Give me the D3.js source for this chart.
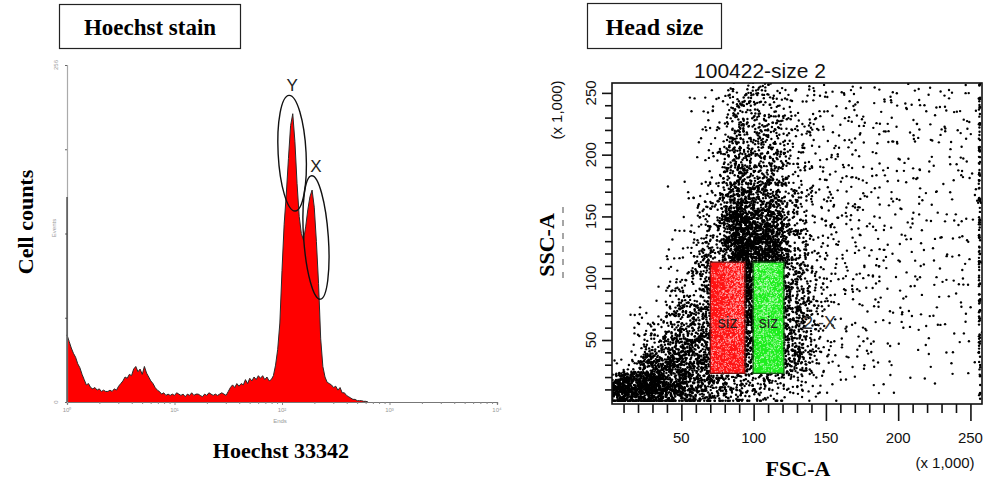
<!DOCTYPE html>
<html>
<head>
<meta charset="utf-8">
<script src="https://cdn.jsdelivr.net/npm/d3@7"></script>
<style>
  body { margin: 0; background: #fff; }
  svg { display: block; }
</style>
</head>
<body>
<script>
// ---- Hoechst histogram (left panel) ----
// counts per bin, bins are 0.02 decade wide starting at 10^0
const histBinStart = 0;
const histBinWidth = 0.02;
const histCounts = [
  51,46,41,37,34,29,26,21,17,13, 14,11,10,11,9,10,8,9,8,8,
  9,8,10,9,12,14,16,19,18,21, 20,25,27,23,25,21,27,22,19,16,
  14,11,9,8,6,7,5,6,
  5,6,5,7,6,5,6,4,6,5,7,5,6,6,5,4,6,5,7,6,5,6,5,6,7,6,5,
  8,11,13,11,14,12,14,13,17,14,18,16,19,17,20,18,20,17,19,16,17,20,28,40,60,
  100,135,158,185,210,219,198,166,141,128,123,133,146,156,161,148,122,90,48,27,
  19,15,14,13,11,12,9,11,7,7,5,4,3,2,2,1,1,1,0.5,0.5,0
];
const histYTicks = [0, 64, 128, 192, 256];
const histXTicks = [1, 10, 100, 1000, 10000];
// peak annotations: centre (decade), centre count, half width (decade), half height (count)
const peakMarks = [
  { label: "Y", decade: 2.094, count: 189, rx: 0.13, ry: 44, rot: -3 },
  { label: "X", decade: 2.316, count: 125, rx: 0.115, ry: 47, rot: -4 }
];

// ---- Head size scatter (right panel) ----
const fscCellStarts = [0,20,40,60,80,100,120,140,160,180,200,220,240];
const sscCellStarts = [0,20,40,60,80,100,120,140,160,180,200,220,240];
const cellSize = 20;
// dot counts per cell, one row per SSC band (bottom first), columns follow fscCellStarts
const densityRows = [
  [520,480,280,150,75,50,20,6,3,3,1,1,0],
  [10,230,250,200,170,170,100,15,6,5,4,3,2],
  [0,50,170,200,240,240,120,20,8,6,5,5,4],
  [0,12,80,160,320,300,115,20,10,7,6,6,5],
  [0,3,35,110,380,340,95,22,12,8,7,6,5],
  [0,1,15,85,420,360,75,20,12,9,7,6,5],
  [0,0,7,60,420,340,60,18,12,9,8,7,6],
  [0,0,3,40,320,230,48,17,12,10,8,7,6],
  [0,0,2,25,190,140,36,15,12,9,8,7,6],
  [0,0,1,15,120,95,28,14,11,9,8,7,6],
  [0,0,0,12,85,70,24,14,11,10,8,8,7],
  [0,0,0,9,65,55,20,14,11,10,9,8,7],
  [0,0,0,6,50,45,16,11,9,8,8,7,6]
];
// events piled at the top of the FSC range, per SSC band
const edgePile = [6,9,11,12,12,12,12,12,12,12,11,11,10];
const gates = [
  { name: "siz", fsc: [70, 94], ssc: [23, 113], fill: "#ff1414", dot: "#ffc4c4", stroke: "#7a1010" },
  { name: "siz", fsc: [99.6, 121], ssc: [23, 113], fill: "#1fee1f", dot: "#d0ffd0", stroke: "#145a14" }
];
const scatterMajorTicks = [50, 100, 150, 200, 250];
const scatterMinorTicks = [10,20,30,40,60,70,80,90,110,120,130,140,160,170,180,190,210,220,230,240];

const W = 985, H = 486;
const serif = "'Liberation Serif', 'Times New Roman', serif";
const sans = "'Liberation Sans', Arial, sans-serif";

const svg = d3.select("body").append("svg")
  .attr("width", W).attr("height", H)
  .style("background", "#fff");

// title boxes
function boxTitle(x, y, w, h, txt, size) {
  svg.append("rect").attr("x", x).attr("y", y).attr("width", w).attr("height", h)
    .attr("fill", "#fff").attr("stroke", "#222").attr("stroke-width", 1.2);
  svg.append("text").attr("x", x + w / 2).attr("y", y + h / 2 + 1)
    .attr("text-anchor", "middle").attr("dominant-baseline", "central")
    .style("font-family", serif).style("font-weight", "bold").style("font-size", size + "px")
    .text(txt);
}
boxTitle(59.5, 4.5, 181, 44, "Hoechst stain", 23);
boxTitle(587.5, 3.5, 134, 45, "Head size", 24);

// ===== histogram =====
const hx = d3.scaleLog().domain([1, 1e4]).range([67, 497]);
const hy = d3.scaleLinear().domain([0, 256]).range([402, 65]);

const histData = histCounts.map((c, i) => ({ dec: histBinStart + i * histBinWidth, c }));

const area = d3.area()
  .x(d => hx(Math.pow(10, d.dec)))
  .y0(hy(0))
  .y1(d => hy(d.c));
const line = d3.line()
  .x(d => hx(Math.pow(10, d.dec)))
  .y(d => hy(d.c));

svg.append("path").datum(histData).attr("d", area).attr("fill", "#ff0000");
svg.append("path").datum(histData).attr("d", line)
  .attr("fill", "none").attr("stroke", "#2a2a2a").attr("stroke-width", 1);

// axes (faint, small, as in the instrument export)
const hAxisX = svg.append("g").attr("transform", `translate(0,${hy(0)})`);
hAxisX.call(d3.axisBottom(hx).tickValues(histXTicks).tickSize(3).tickFormat(""));
const minorLog = [];
[1, 10, 100, 1000].forEach(b => { for (let k = 2; k < 10; k++) minorLog.push(b * k); });
hAxisX.append("g").call(d3.axisBottom(hx).tickValues(minorLog).tickSize(2).tickFormat(""));
hAxisX.selectAll("path, line").attr("stroke", "#888");
hAxisX.selectAll(".domain").attr("stroke", "#777").attr("stroke-width", 1.2);
histXTicks.forEach((t, i) => {
  svg.append("text").attr("x", hx(t)).attr("y", 412)
    .attr("text-anchor", "middle").style("font-family", sans).style("font-size", "6px")
    .attr("fill", "#999").text("10" + ["\u2070", "\u00b9", "\u00b2", "\u00b3", "\u2074"][i]);
});
svg.append("text").attr("x", 280).attr("y", 423).attr("text-anchor", "middle")
  .style("font-family", sans).style("font-size", "6px").attr("fill", "#999").text("Ends");

const hAxisY = svg.append("g").attr("transform", `translate(${hx(1)},0)`);
hAxisY.call(d3.axisLeft(hy).tickValues(histYTicks).tickSize(2).tickFormat(""));
hAxisY.selectAll(".domain").attr("stroke", "#aaa").attr("stroke-width", 1.2);
hAxisY.selectAll("line").attr("stroke", "#666");
svg.append("line").attr("x1", hx(1)).attr("x2", hx(1)).attr("y1", 197).attr("y2", hy(0))
  .attr("stroke", "#333").attr("stroke-width", 1.2);
[0, 256].forEach(v => {
  svg.append("text").attr("transform", `translate(58,${hy(v)}) rotate(-90)`)
    .attr("text-anchor", "middle").style("font-family", sans).style("font-size", "6px")
    .attr("fill", "#999").text(v);
});
svg.append("text").attr("transform", "translate(56,228) rotate(-90)")
  .attr("text-anchor", "middle").style("font-family", sans).style("font-size", "6px")
  .attr("fill", "#999").text("Events");

// peak ellipses
peakMarks.forEach(p => {
  const cx = hx(Math.pow(10, p.decade)), cy = hy(p.count);
  const rx = hx(Math.pow(10, p.decade + p.rx)) - cx;
  const ry = hy(0) - hy(p.ry);
  svg.append("ellipse").attr("cx", cx).attr("cy", cy).attr("rx", rx).attr("ry", ry)
    .attr("transform", `rotate(${p.rot},${cx},${cy})`)
    .attr("fill", "none").attr("stroke", "#111").attr("stroke-width", 1.4);
  svg.append("text").attr("x", cx).attr("y", cy - ry - 4)
    .attr("text-anchor", "middle").style("font-family", sans).style("font-size", "17px")
    .attr("fill", "#222").text(p.label);
});

svg.append("text").attr("transform", "translate(25,222) rotate(-90)")
  .attr("text-anchor", "middle").attr("dominant-baseline", "central")
  .style("font-family", serif).style("font-weight", "bold").style("font-size", "22px")
  .text("Cell counts");
svg.append("text").attr("x", 281).attr("y", 450)
  .attr("text-anchor", "middle").attr("dominant-baseline", "central")
  .style("font-family", serif).style("font-weight", "bold").style("font-size", "22px")
  .text("Hoechst 33342");

// ===== scatter =====
const sx = d3.scaleLinear().domain([2, 258]).range([612, 982]);
const sy = d3.scaleLinear().domain([-1.8, 258]).range([404, 83]);

svg.append("defs").append("clipPath").attr("id", "frameClip")
  .append("rect").attr("x", sx(2)).attr("y", sy(258))
  .attr("width", sx(258) - sx(2)).attr("height", sy(-1.8) - sy(258));

const plot = svg.append("g").attr("clip-path", "url(#frameClip)");

// gate fills first
plot.selectAll("rect.gate").data(gates).join("rect").attr("class", "gate")
  .attr("x", d => sx(d.fsc[0])).attr("y", d => sy(d.ssc[1]))
  .attr("width", d => sx(d.fsc[1]) - sx(d.fsc[0]))
  .attr("height", d => sy(d.ssc[0]) - sy(d.ssc[1]))
  .attr("fill", d => d.fill);

// layout of each cell's events: a fixed integer hash gives the in-cell offsets,
// and a tent footprint lets neighbouring cells blend
function hash01(n) {
  n = (n ^ 61) ^ (n >>> 16);
  n = n + (n << 3);
  n = n ^ (n >>> 4);
  n = Math.imul(n, 0x27d4eb2d);
  n = n ^ (n >>> 15);
  return (n >>> 0) / 4294967296;
}
const footprint = 0.8;
const events = [];
let seq = 1;
densityRows.forEach((row, j) => {
  row.forEach((n, i) => {
    for (let k = 0; k < n; k++, seq++) {
      const a = hash01(seq * 4 + 1), b = hash01(seq * 4 + 2);
      const c = hash01(seq * 4 + 3), e = hash01(seq * 4 + 4);
      events.push({
        fsc: fscCellStarts[i] + cellSize / 2 + (a + b - 1) * cellSize * footprint,
        ssc: Math.max(0.8, sscCellStarts[j] + cellSize / 2 + (c + e - 1) * cellSize * footprint)
      });
    }
  });
});
edgePile.forEach((n, j) => {
  for (let k = 0; k < n; k++, seq++) {
    events.push({ fsc: 255.8 + hash01(seq * 4 + 1), ssc: sscCellStarts[j] + hash01(seq * 4 + 2) * cellSize });
  }
});

function gateOf(d) {
  return gates.find(g => d.fsc >= g.fsc[0] && d.fsc <= g.fsc[1] && d.ssc >= g.ssc[0] && d.ssc <= g.ssc[1]);
}
plot.selectAll("circle").data(events).join("circle")
  .attr("cx", d => sx(d.fsc)).attr("cy", d => sy(d.ssc))
  .attr("r", d => gateOf(d) ? 0.5 : 1.2)
  .attr("fill", d => { const g = gateOf(d); return g ? g.dot : "#000"; });

plot.selectAll("rect.gateline").data(gates).join("rect").attr("class", "gateline")
  .attr("x", d => sx(d.fsc[0])).attr("y", d => sy(d.ssc[1]))
  .attr("width", d => sx(d.fsc[1]) - sx(d.fsc[0]))
  .attr("height", d => sy(d.ssc[0]) - sy(d.ssc[1]))
  .attr("fill", "none").attr("stroke", d => d.stroke).attr("stroke-width", 1.3);

plot.selectAll("text.gname").data(gates).join("text").attr("class", "gname")
  .attr("x", d => sx((d.fsc[0] + d.fsc[1]) / 2)).attr("y", sy(64))
  .attr("text-anchor", "middle").attr("dominant-baseline", "central")
  .style("font-family", sans).style("font-size", "16px").attr("fill", "#222")
  .text(d => d.name);
plot.append("text").attr("x", sx(130)).attr("y", sy(64))
  .attr("dominant-baseline", "central").style("font-family", sans).style("font-size", "18px")
  .attr("fill", "#333").text("-2 -X");

// frame
svg.append("rect").attr("x", sx(2)).attr("y", sy(258))
  .attr("width", sx(258) - sx(2)).attr("height", sy(-1.8) - sy(258))
  .attr("fill", "none").attr("stroke", "#111").attr("stroke-width", 1.6);

// ticks
const axB = svg.append("g").attr("transform", `translate(0,${sy(-1.8)})`);
axB.append("g").call(d3.axisBottom(sx).tickValues(scatterMinorTicks).tickSize(9).tickFormat(""));
axB.append("g").call(d3.axisBottom(sx).tickValues(scatterMajorTicks).tickSize(17).tickFormat(""));
const axL = svg.append("g").attr("transform", `translate(${sx(2)},0)`);
axL.append("g").call(d3.axisLeft(sy).tickValues(scatterMinorTicks).tickSize(7).tickFormat(""));
axL.append("g").call(d3.axisLeft(sy).tickValues(scatterMajorTicks).tickSize(10).tickFormat(""));
axB.selectAll(".domain").remove();
axL.selectAll(".domain").remove();
axB.selectAll("line").attr("stroke", "#111").attr("stroke-width", 1.6);
axL.selectAll("line").attr("stroke", "#111").attr("stroke-width", 1.6);

scatterMajorTicks.forEach(t => {
  svg.append("text").attr("x", sx(t)).attr("y", 437)
    .attr("text-anchor", "middle").attr("dominant-baseline", "central")
    .style("font-family", sans).style("font-size", "15px").attr("fill", "#111").text(t);
  svg.append("text").attr("transform", `translate(590,${sy(t)}) rotate(-90)`)
    .attr("text-anchor", "middle").attr("dominant-baseline", "central")
    .style("font-family", sans).style("font-size", "15px").attr("fill", "#111").text(t);
});
svg.append("text").attr("x", 945).attr("y", 462)
  .attr("text-anchor", "middle").attr("dominant-baseline", "central")
  .style("font-family", sans).style("font-size", "15px").attr("fill", "#111").text("(x 1,000)");
svg.append("text").attr("transform", "translate(556,110) rotate(-90)")
  .attr("text-anchor", "middle").attr("dominant-baseline", "central")
  .style("font-family", sans).style("font-size", "15px").attr("fill", "#111").text("(x 1,000)");

svg.append("text").attr("x", 760).attr("y", 70)
  .attr("text-anchor", "middle").attr("dominant-baseline", "central")
  .style("font-family", sans).style("font-size", "21px").attr("fill", "#111").text("100422-size 2");

svg.append("text").attr("transform", "translate(546,245) rotate(-90)")
  .attr("text-anchor", "middle").attr("dominant-baseline", "central")
  .style("font-family", serif).style("font-weight", "bold").style("font-size", "22px")
  .text("SSC-A");
svg.append("line").attr("x1", 563).attr("x2", 563).attr("y1", 207).attr("y2", 283)
  .attr("stroke", "#777").attr("stroke-width", 1.3).attr("stroke-dasharray", "6,7");
svg.append("text").attr("x", 798).attr("y", 468)
  .attr("text-anchor", "middle").attr("dominant-baseline", "central")
  .style("font-family", serif).style("font-weight", "bold").style("font-size", "22px")
  .text("FSC-A");
</script>
</body>
</html>
